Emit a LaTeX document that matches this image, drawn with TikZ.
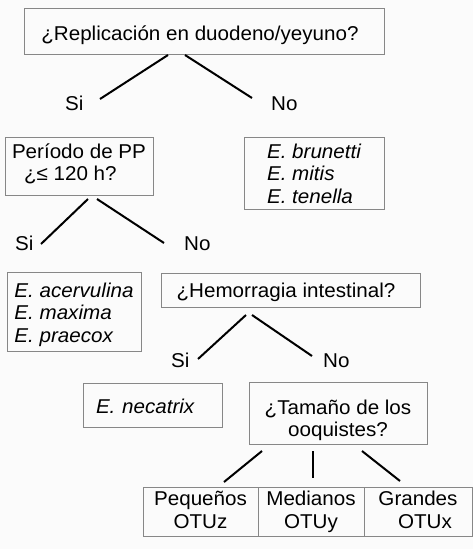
\documentclass[tikz,border=0pt]{standalone}
\usepackage{fontspec}
\setmainfont{Liberation Sans}[FakeStretch=1.03]
\definecolor{boxgray}{RGB}{135,135,135}
\definecolor{bg}{RGB}{251,251,251}
\begin{document}
\begin{tikzpicture}[x=1pt,y=-1pt,
  every node/.style={font=\fontsize{20}{22.8}\selectfont},
  box/.style={draw=boxgray, line width=1pt, inner sep=0pt, align=center},
  lbox/.style={box, align=left},
  lab/.style={anchor=base west, inner sep=0pt},
  conn/.style={line width=2pt, black}]
\fill[bg] (0,0) rectangle (473,549);
\useasboundingbox (0,0) rectangle (473,549);

% boxes (text height/depth measured from the last line's baseline)
\node[box, minimum width=360pt, text height=32pt, text depth=14pt] (q1) at (204,31) {¿Replicación en duodeno/yeyuno?\hspace*{8pt}};
\node[lbox, minimum width=148pt, text height=43.8pt, text depth=14.2pt] (q2) at (79,166) {Período de PP\\\hspace*{12pt}¿≤ 120 h?};
\node[lbox, minimum width=140pt, text height=66.6pt, text depth=5.4pt] (r1) at (314,173) {\itshape E. brunetti\\\itshape E. mitis\\\itshape E. tenella};
\node[lbox, minimum width=134pt, text height=70.6pt, text depth=8.4pt] (r2) at (74,311.5) {\itshape E. acervulina\\\itshape E. maxima\\\itshape E. praecox};
\node[box, minimum width=259pt, text height=24pt, text depth=10pt] (q3) at (290.5,290) {¿Hemorragia intestinal?\hspace*{9pt}};
\node[lbox, text width=113pt, inner xsep=13pt, text height=30.5pt, text depth=13.5pt] (r3) at (152.5,405) {\itshape E. necatrix};
\node[box, minimum width=178pt, text height=54.8pt, text depth=7.2pt] (q4) at (338,413) {¿Tamaño de los\\ooquistes?};
\node[box, minimum width=115pt, text height=41.3pt, text depth=7.7pt] (s1) at (200.5,511.5) {Pequeños\\OTUz};
\node[box, minimum width=106pt, text height=41.3pt, text depth=7.7pt] (s2) at (311,511.5) {Medianos\\OTUy};
\node[box, minimum width=108pt, text height=41.3pt, text depth=7.7pt] (s3) at (418,511.5) {Grandes\\\hspace*{14pt}OTUx};

% labels
\node[lab] (si1) at (65,110) {Si};
\node[lab] (no1) at (271,110) {No};
\node[lab] (si2) at (15,250) {Si};
\node[lab] (no2) at (184,250) {No};
\node[lab] (si3) at (171,367) {Si};
\node[lab] (no3) at (323,367) {No};

% connector end points
\coordinate (a1) at (168,55);  \coordinate (b1) at (100,99);
\coordinate (a2) at (185,55);  \coordinate (b2) at (252,98);
\coordinate (a3) at (88,199);  \coordinate (b3) at (41,244);
\coordinate (a4) at (97,199);  \coordinate (b4) at (164,243);
\coordinate (a5) at (246,315); \coordinate (b5) at (198,359);
\coordinate (a6) at (252,315); \coordinate (b6) at (312,356);
\coordinate (a7) at (262,451); \coordinate (b7) at (224,482);
\coordinate (a8) at (313,451); \coordinate (b8) at (313,478);
\coordinate (a9) at (362,451); \coordinate (b9) at (400,481);

\draw[conn] (a1) -- (b1);
\draw[conn] (a2) -- (b2);
\draw[conn] (a3) -- (b3);
\draw[conn] (a4) -- (b4);
\draw[conn] (a5) -- (b5);
\draw[conn] (a6) -- (b6);
\draw[conn] (a7) -- (b7);
\draw[conn] (a8) -- (b8);
\draw[conn] (a9) -- (b9);
\end{tikzpicture}
\end{document}
